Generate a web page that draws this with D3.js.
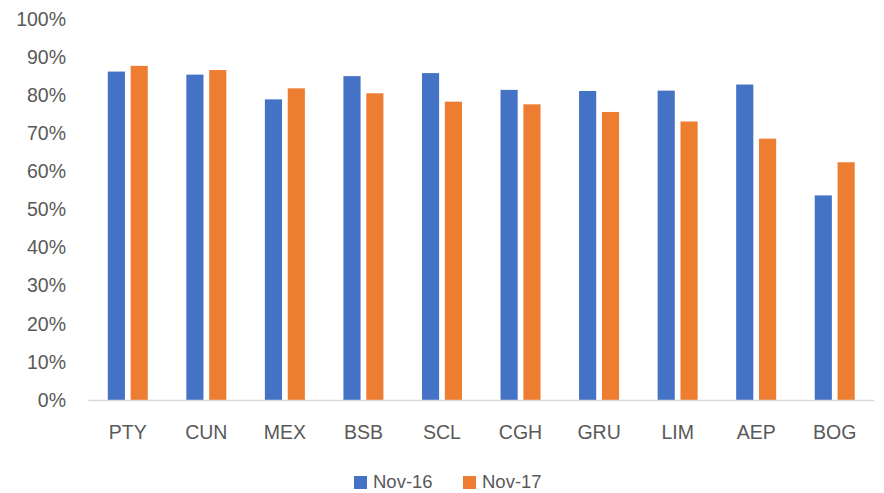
<html>
  <head>
    <script src="https://d3js.org/d3.v7.min.js"></script>
  <style>
    body { margin: 0; background: #fff; }
    text {
      font-family: "Liberation Sans", Arial, sans-serif;
      fill: #595959;
    }
  </style>
  </head>

  <body>
    <svg id="mainSVG" width="884" height="493"></svg>
  </body>

  <script>
      // data
      const airports = ["PTY", "CUN", "MEX", "BSB", "SCL", "CGH", "GRU", "LIM", "AEP", "BOG"];
      const seriesNames = ["Nov-16", "Nov-17"];
      const nov16 = [86.2, 85.4, 78.9, 85.0, 85.8, 81.4, 81.1, 81.2, 82.8, 53.7];
      const nov17 = [87.7, 86.6, 81.8, 80.5, 78.3, 77.6, 75.6, 73.1, 68.6, 62.4];
      const yTicks = [0, 10, 20, 30, 40, 50, 60, 70, 80, 90, 100];
      const colors = ["#4472C4", "#ED7D31"];

      const svg = d3.select("#mainSVG");

      const plotLeft = 88.5, plotRight = 874, plotTop = 19, plotBottom = 400;

      const rows = airports.map((a, i) => ({ name: a, values: [nov16[i], nov17[i]] }));

      const xScale = d3.scaleBand()
        .domain(airports)
        .range([plotLeft, plotRight])
        .padding(0);

      const bw = xScale.bandwidth();
      const xInner = d3.scaleBand()
        .domain(seriesNames)
        .range([bw / 2 - 20, bw / 2 + 20])
        .paddingInner(0.25)
        .paddingOuter(0);

      const yScale = d3.scaleLinear()
        .domain([0, 100])
        .range([plotBottom, plotTop]);

      // bars
      svg.append("g").selectAll("g")
        .data(rows)
        .join("g")
        .attr("transform", d => `translate(${xScale(d.name)},0)`)
        .selectAll("rect")
        .data(d => d.values.map((v, j) => ({ key: seriesNames[j], value: v, idx: j })))
        .join("rect")
        .attr("x", d => xInner(d.key))
        .attr("y", d => yScale(d.value))
        .attr("width", xInner.bandwidth())
        .attr("height", d => yScale(0) - yScale(d.value))
        .attr("fill", d => colors[d.idx]);

      // y axis labels (no line)
      const yAxis = d3.axisLeft(yScale)
        .tickValues(yTicks)
        .tickSize(0)
        .tickPadding(0)
        .tickFormat(d => d + "%");
      const yg = svg.append("g")
        .attr("transform", `translate(66,0)`)
        .call(yAxis);
      yg.select(".domain").remove();
      yg.selectAll("text")
        .style("font-size", "19.5px")
        .style("font-family", "'Liberation Sans', Arial, sans-serif")
        .attr("fill", "#595959");

      // x axis baseline
      svg.append("line")
        .attr("x1", plotLeft)
        .attr("x2", plotRight)
        .attr("y1", yScale(0) + 0.5)
        .attr("y2", yScale(0) + 0.5)
        .attr("stroke", "#d9d9d9")
        .attr("stroke-width", 1.3);

      const xAxis = d3.axisBottom(xScale).tickSize(0).tickPadding(0);
      const xg = svg.append("g")
        .attr("transform", `translate(0,${plotBottom + 25})`)
        .call(xAxis);
      xg.select(".domain").remove();
      xg.selectAll("text")
        .style("font-size", "19.5px")
        .style("font-family", "'Liberation Sans', Arial, sans-serif")
        .attr("fill", "#595959");

      // legend
      const legendX = [354, 463];
      const legend = svg.append("g").selectAll("g")
        .data(seriesNames)
        .join("g")
        .attr("transform", (d, i) => `translate(${legendX[i]},476)`);
      legend.append("rect")
        .attr("width", 13)
        .attr("height", 13)
        .attr("fill", (d, i) => colors[i]);
      legend.append("text")
        .attr("x", 19)
        .attr("y", 6)
        .attr("dy", "0.35em")
        .style("font-size", "18.5px")
        .text(d => d);
  </script>
</html>
